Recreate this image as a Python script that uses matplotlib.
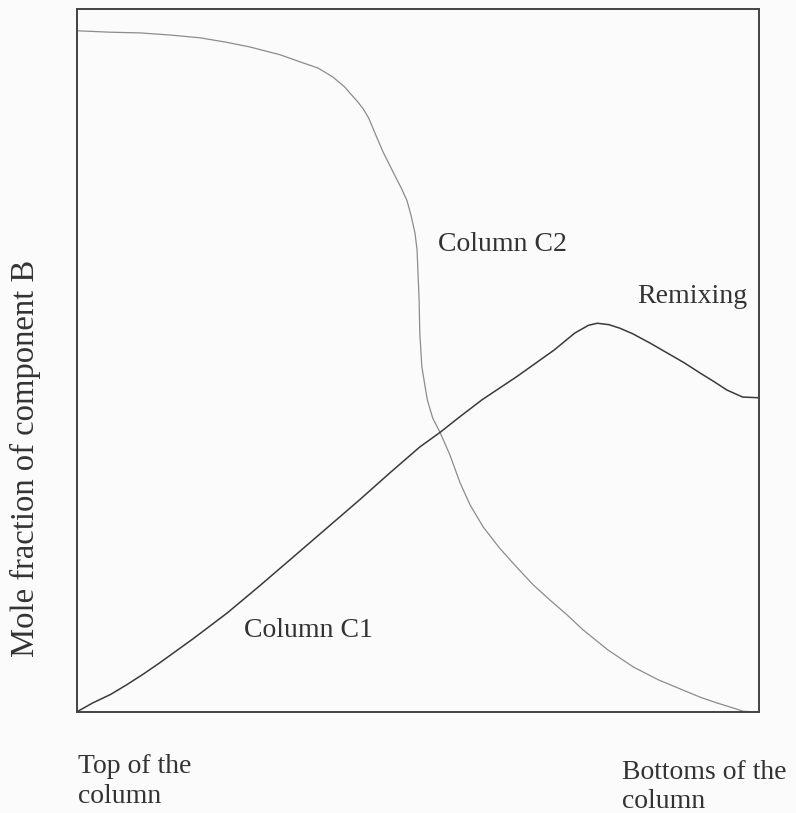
import matplotlib
matplotlib.use("Agg")
import matplotlib.pyplot as plt

# position along the column: 0 = top, 1 = bottom
c1_x = [0.0, 0.024, 0.050, 0.074, 0.098, 0.122, 0.172, 0.221, 0.269, 0.317,
        0.366, 0.415, 0.459, 0.503, 0.533, 0.563, 0.594, 0.645, 0.700, 0.730,
        0.750, 0.763, 0.780, 0.796, 0.815, 0.840, 0.865, 0.890, 0.914, 0.934,
        0.953, 0.976, 1.0]
c1_y = [0.0, 0.013, 0.025, 0.039, 0.054, 0.070, 0.105, 0.141, 0.180, 0.220,
        0.261, 0.302, 0.340, 0.377, 0.398, 0.421, 0.444, 0.477, 0.515, 0.539,
        0.550, 0.553, 0.551, 0.546, 0.538, 0.525, 0.511, 0.497, 0.482, 0.470,
        0.458, 0.448, 0.447]

c2_x = [0.002, 0.049, 0.093, 0.137, 0.181, 0.218, 0.254, 0.298, 0.327, 0.354,
        0.376, 0.393, 0.401, 0.412, 0.420, 0.428, 0.438, 0.449, 0.467, 0.476,
        0.484, 0.490, 0.496, 0.499, 0.500, 0.502, 0.503, 0.506, 0.514, 0.522,
        0.533, 0.547, 0.562, 0.577, 0.596, 0.620, 0.645, 0.669, 0.694, 0.719,
        0.742, 0.779, 0.816, 0.852, 0.889, 0.914, 0.938, 0.958, 0.977, 0.999]
c2_y = [0.969, 0.967, 0.966, 0.963, 0.959, 0.953, 0.946, 0.935, 0.925, 0.916,
        0.903, 0.889, 0.880, 0.868, 0.858, 0.845, 0.822, 0.797, 0.762, 0.745,
        0.728, 0.707, 0.681, 0.657, 0.633, 0.586, 0.539, 0.491, 0.444, 0.418,
        0.397, 0.366, 0.326, 0.294, 0.263, 0.233, 0.206, 0.181, 0.159, 0.138,
        0.117, 0.088, 0.064, 0.046, 0.031, 0.021, 0.013, 0.007, 0.001, 0.0]

label_c1 = "Column C1"
label_c2 = "Column C2"
label_remix = "Remixing"
ylabel = "Mole fraction of component B"
x_left = "Top of the\ncolumn"
x_right = "Bottoms of the\ncolumn"

plt.rcParams["font.family"] = ["Liberation Serif", "DejaVu Serif"]

W, H = 796, 813
fig = plt.figure(figsize=(W / 100, H / 100), dpi=100, facecolor="#fbfbfb")
ax = fig.add_axes([76.5 / W, (H - 712) / H, 682.5 / W, 703 / H])
ax.set_facecolor("#fbfbfb")

ax.plot(c2_x, c2_y, color="#8c8c8c", lw=0.9, solid_joinstyle="round")
ax.plot(c1_x, c1_y, color="#3a3a3a", lw=1.1, solid_joinstyle="round")

ax.set_xlim(0, 1)
ax.set_ylim(0, 1)
ax.set_xticks([])
ax.set_yticks([])
for s in ax.spines.values():
    s.set_color("#444444")
    s.set_linewidth(1.4)

txt = dict(color="#333333", fontsize=20)

def px(x, y):
    # figure pixel -> figure fraction
    return x / W, 1 - y / H

fig.text(*px(244, 637), label_c1, va="baseline", ha="left", **txt)
fig.text(*px(438, 251), label_c2, va="baseline", ha="left", **txt)
fig.text(*px(637, 303), label_remix, va="baseline", ha="left", **txt)
fig.text(*px(78, 754), x_left, va="top", ha="left", linespacing=1.25, **txt)
fig.text(*px(622, 760), x_right, va="top", ha="left", linespacing=1.2, **txt)
fig.text(*px(25, 458), ylabel, rotation=90, va="center", ha="center",
         color="#333333", fontsize=23.5)

fig.savefig("out.png", dpi=100, facecolor=fig.get_facecolor())
